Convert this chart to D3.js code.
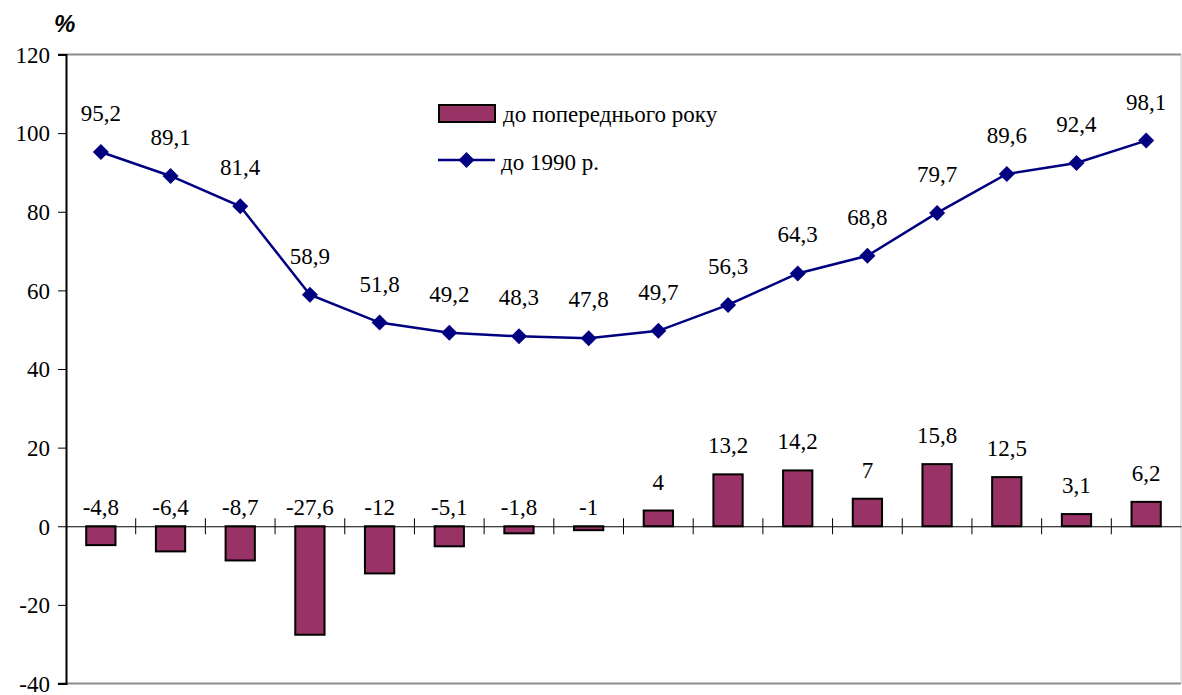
<!DOCTYPE html>
<html>
<head>
<meta charset="utf-8">
<script src="https://cdn.jsdelivr.net/npm/d3@7"></script>
<style>
  html, body { margin: 0; padding: 0; background: #fff; }
  svg { display: block; }
  svg text.serif { font-family: "Liberation Serif", "Times New Roman", Tinos, "DejaVu Serif", serif; font-size: 23px; fill: #000; }
</style>
</head>
<body>
<svg id="chart" width="1182" height="695"></svg>
<script>
// Periods along the x axis (not labelled on the chart)
const categories = ["1991","1992","1993","1994","1995","1996","1997","1998",
                    "1999","2000","2001","2002","2003","2004","2005","2006"];
// Change to the previous year, %
const prevYear = [-4.8, -6.4, -8.7, -27.6, -12, -5.1, -1.8, -1, 4, 13.2, 14.2, 7, 15.8, 12.5, 3.1, 6.2];
// Level relative to 1990, %
const to1990 = [95.2, 89.1, 81.4, 58.9, 51.8, 49.2, 48.3, 47.8, 49.7, 56.3, 64.3, 68.8, 79.7, 89.6, 92.4, 98.1];
const yTicks = [-40, -20, 0, 20, 40, 60, 80, 100, 120];
const legendLabels = ["до попереднього року", "до 1990 р."];

(function draw() {
  const svg = d3.select("#chart");
  const barColor = "#993366";
  const lineColor = "#000080";

  const plotL = 66, plotR = 1181, plotT = 54.5, plotB = 683.5;

  const x = d3.scaleBand().domain(categories).range([plotL, plotR]).padding(0);
  const y = d3.scaleLinear().domain([-40, 120]).range([plotB, plotT]);
  const fmt = v => String(v).replace(".", ",");

  // Plot-area frame: top and bottom grey, right light grey
  svg.append("line").attr("x1", plotL - 8).attr("x2", plotR).attr("y1", plotT).attr("y2", plotT)
    .attr("stroke", "#8c8c8c").attr("stroke-width", 2);
  svg.append("line").attr("x1", plotL - 8).attr("x2", plotR).attr("y1", plotB).attr("y2", plotB)
    .attr("stroke", "#8c8c8c").attr("stroke-width", 2);
  svg.append("line").attr("x1", plotR).attr("x2", plotR).attr("y1", plotT).attr("y2", plotB)
    .attr("stroke", "#c8c8c8").attr("stroke-width", 1);

  // Y axis
  const yAxis = d3.axisLeft(y).tickValues(yTicks).tickSize(8).tickPadding(8).tickFormat(d => d);
  const ya = svg.append("g").attr("transform", `translate(${plotL},0)`).call(yAxis)
    .attr("font-family", null).attr("font-size", null);
  ya.select(".domain").attr("stroke", "#000").attr("stroke-width", 2);
  ya.selectAll(".tick line").attr("stroke", "#000").attr("stroke-width", 1);
  ya.selectAll(".tick text").attr("class", "serif").attr("fill", "#000").attr("dy", "0.34em");

  // Bars
  svg.append("g").selectAll("rect").data(prevYear).join("rect")
    .attr("x", (d, i) => x(categories[i]) + x.bandwidth() * 0.29)
    .attr("width", x.bandwidth() * 0.42)
    .attr("y", d => y(Math.max(0, d)))
    .attr("height", d => Math.abs(y(d) - y(0)))
    .attr("fill", barColor).attr("stroke", "#000").attr("stroke-width", 2);

  // Zero line with crossing category ticks
  const xAxis = d3.axisBottom(x).tickSize(0).tickFormat("");
  const xa = svg.append("g").attr("transform", `translate(0,${y(0)})`).call(xAxis);
  xa.select(".domain").attr("stroke", "#000").attr("stroke-width", 1.2);
  xa.selectAll(".tick").remove();
  svg.append("g").selectAll("line").data(categories.slice(1)).join("line")
    .attr("x1", d => x(d)).attr("x2", d => x(d))
    .attr("y1", y(0) - 8).attr("y2", y(0) + 8)
    .attr("stroke", "#000").attr("stroke-width", 1);

  // Bar value labels
  svg.append("g").selectAll("text").data(prevYear).join("text")
    .attr("class", "serif")
    .attr("x", (d, i) => x(categories[i]) + x.bandwidth() / 2)
    .attr("y", d => d >= 0 ? y(d) - 21 : y(0) - 11)
    .attr("text-anchor", "middle")
    .text(d => fmt(d));

  // Line series
  const cx = i => x(categories[i]) + x.bandwidth() / 2;
  const line = d3.line().x((d, i) => cx(i)).y(d => y(d));
  svg.append("path").datum(to1990).attr("d", line)
    .attr("fill", "none").attr("stroke", lineColor).attr("stroke-width", 2.5);

  const diamond = s => `M0,${-s}L${s},0L0,${s}L${-s},0Z`;
  svg.append("g").selectAll("path").data(to1990).join("path")
    .attr("transform", (d, i) => `translate(${cx(i)},${y(d)})`)
    .attr("d", diamond(8)).attr("fill", lineColor);

  svg.append("g").selectAll("text").data(to1990).join("text")
    .attr("class", "serif")
    .attr("x", (d, i) => cx(i))
    .attr("y", d => y(d) - 31)
    .attr("text-anchor", "middle")
    .text(d => fmt(d));

  // Unit label
  svg.append("text").attr("x", 54).attr("y", 32)
    .attr("font-family", "Liberation Sans, Arial, sans-serif")
    .attr("font-size", 24).attr("font-weight", "bold").attr("font-style", "italic")
    .text("%");

  // Legend
  const lg = svg.append("g");
  lg.append("rect").attr("x", 439).attr("y", 105).attr("width", 56).attr("height", 17)
    .attr("fill", barColor).attr("stroke", "#000").attr("stroke-width", 2);
  lg.append("text").attr("class", "serif").attr("x", 503).attr("y", 122).text(legendLabels[0]);
  lg.append("line").attr("x1", 438).attr("x2", 495).attr("y1", 160).attr("y2", 160)
    .attr("stroke", lineColor).attr("stroke-width", 2.5);
  lg.append("path").attr("transform", "translate(466.5,160)").attr("d", diamond(8)).attr("fill", lineColor);
  lg.append("text").attr("class", "serif").attr("x", 501).attr("y", 170).text(legendLabels[1]);
})();
</script>
</body>
</html>
